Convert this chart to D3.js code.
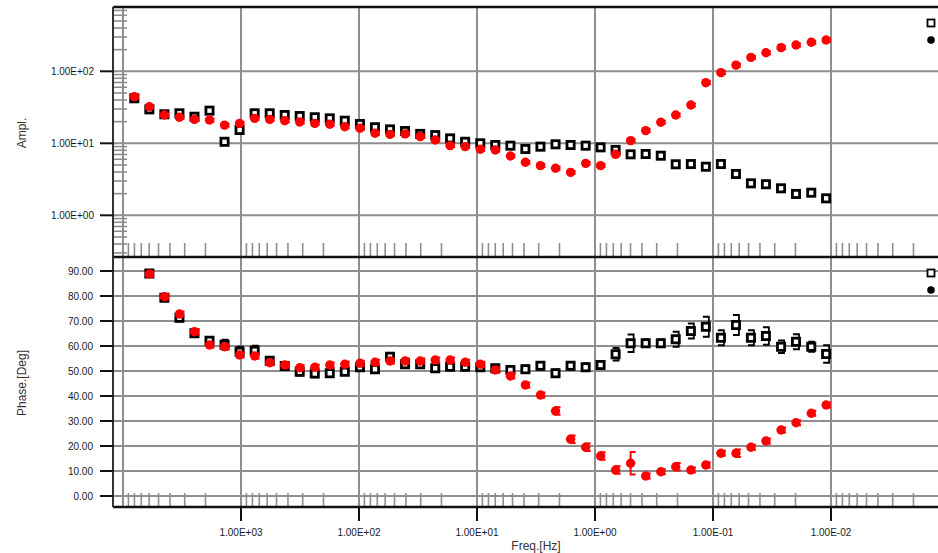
<!DOCTYPE html>
<html>
<head>
<meta charset="utf-8">
<script src="https://cdn.jsdelivr.net/npm/d3@7/dist/d3.min.js"></script>
<style>
  html, body { margin: 0; padding: 0; background: #fff; }
  svg { display: block; font-family: "Liberation Sans", Arial, sans-serif; }
</style>
</head>
<body>
<svg id="chart" width="938" height="553"></svg>
<script>
// Measured frequencies (Hz), high to low
const freq = [8020, 5980, 4460, 3325, 2480, 1849, 1379, 1028, 766, 571,
  426, 318, 237, 177, 132, 98.2, 73.2, 54.6, 40.7, 30.3,
  22.6, 16.9, 12.6, 9.38, 7.00, 5.21, 3.89, 2.90, 2.16, 1.61,
  1.20, 0.897, 0.669, 0.499, 0.372, 0.277, 0.207, 0.154, 0.115, 0.0857,
  0.0639, 0.0477, 0.0356, 0.0265, 0.0198, 0.0147, 0.0110];

// Amplitude, series 1 (open squares)
const ampSquare = [42.2, 29.6, 25.3, 26.1, 23.4, 28.4, 10.5, 15.3, 26.1, 26.1,
  24.7, 23.9, 23.0, 22.2, 20.6, 18.5, 16.7, 15.6, 14.8, 13.5,
  13.0, 11.7, 10.5, 10.0, 9.47, 9.27, 8.34, 8.98, 9.68, 9.47,
  9.27, 8.79, 8.08, 7.03, 7.10, 6.73, 5.11, 5.15, 4.73, 5.15,
  3.75, 2.78, 2.70, 2.37, 1.98, 2.06, 1.72];
// Amplitude, series 2 (filled circles)
const ampCircle = [44.4, 32.2, 24.7, 23.0, 21.5, 21.1, 17.9, 18.9, 22.2, 21.5,
  20.6, 19.8, 18.9, 18.4, 17.0, 16.2, 13.8, 13.3, 13.5, 12.4,
  11.1, 9.27, 8.98, 8.26, 8.08, 6.67, 5.45, 4.89, 4.50, 3.95,
  5.27, 4.89, 7.03, 10.9, 15.0, 19.6, 24.7, 34.0, 69.5, 95.7,
  122, 156, 181, 213, 232, 253, 272];
// Amplitude error half-widths, in decades
const ampSquareErr = [0.03, 0.03, 0.03, 0.03, 0.03, 0.04, 0.03, 0.04, 0.03, 0.03,
  0.03, 0.03, 0.03, 0.03, 0.03, 0.03, 0.03, 0.03, 0.03, 0.03,
  0.03, 0.03, 0.03, 0.03, 0.03, 0.03, 0.03, 0.03, 0.03, 0.03,
  0.03, 0.03, 0.03, 0.03, 0.03, 0.03, 0.03, 0.03, 0.04, 0.03,
  0.03, 0.03, 0.03, 0.03, 0.03, 0.03, 0.04];
const ampCircleErr = [0.02, 0.02, 0.02, 0.02, 0.02, 0.02, 0.02, 0.02, 0.02, 0.02,
  0.02, 0.02, 0.02, 0.02, 0.02, 0.02, 0.02, 0.02, 0.02, 0.02,
  0.02, 0.02, 0.02, 0.02, 0.02, 0.02, 0.02, 0.02, 0.02, 0.02,
  0.02, 0.02, 0.02, 0.02, 0.02, 0.02, 0.02, 0.02, 0.02, 0.02,
  0.02, 0.02, 0.02, 0.02, 0.02, 0.02, 0.02];

// Phase (deg); no phase reading at the first frequency
const phaseSquare = [null, 89.0, 79.3, 71.3, 65.1, 62.1, 60.5, 57.7, 58.1, 54.1,
  52.0, 49.7, 49.0, 49.1, 49.7, 51.5, 50.7, 55.7, 52.7, 52.7,
  51.1, 51.7, 51.7, 51.5, 51.1, 50.4, 50.7, 52.1, 49.1, 52.1,
  51.5, 52.4, 56.7, 61.1, 61.1, 61.1, 62.7, 66.0, 67.7, 63.3,
  68.4, 63.3, 64.0, 59.7, 61.7, 59.7, 56.8];
const phaseCircle = [null, 88.8, 79.7, 72.8, 65.7, 60.4, 59.7, 56.4, 56.0, 53.3,
  52.4, 51.3, 51.5, 52.4, 52.7, 53.1, 53.5, 54.0, 54.0, 54.0,
  54.4, 54.4, 53.5, 52.7, 50.4, 48.0, 44.4, 40.4, 34.0, 22.7,
  19.5, 16.0, 10.4, 13.1, 8.0, 9.7, 11.7, 10.4, 12.4, 17.1,
  17.1, 19.5, 22.0, 26.4, 29.3, 33.1, 36.4];
const phaseSquareErr = [null, 1.2, 1.2, 1.5, 1.2, 1.5, 2.0, 2.0, 2.0, 1.2,
  1.2, 1.5, 1.5, 1.5, 1.2, 1.2, 1.2, 1.5, 1.2, 1.2,
  1.2, 1.2, 1.2, 1.2, 1.2, 1.2, 1.5, 1.5, 1.5, 1.5,
  1.5, 1.5, 2.5, 3.5, 1.5, 1.5, 3.0, 3.0, 4.0, 3.0,
  4.0, 3.0, 3.5, 2.5, 3.0, 2.0, 3.5];
const phaseCircleErr = [null, 1.0, 1.0, 1.0, 1.0, 1.0, 1.0, 1.0, 1.0, 1.0,
  1.0, 1.0, 1.0, 1.0, 1.0, 1.0, 1.0, 1.0, 1.0, 1.0,
  1.0, 1.0, 1.0, 1.0, 1.0, 1.0, 1.0, 1.0, 1.5, 1.5,
  1.5, 1.5, 1.5, 4.5, 1.0, 1.0, 1.5, 1.0, 1.0, 1.0,
  1.5, 1.0, 1.0, 1.0, 1.0, 1.0, 1.0];

// Axis labels
const xTickValues = [1e3, 1e2, 1e1, 1e0, 1e-1, 1e-2];
const xTickLabels = ["1.00E+03", "1.00E+02", "1.00E+01", "1.00E+00", "1.00E-01", "1.00E-02"];
const ampTickValues = [100, 10, 1];
const ampTickLabels = ["1.00E+02", "1.00E+01", "1.00E+00"];
const phaseTickValues = [90, 80, 70, 60, 50, 40, 30, 20, 10, 0];
const phaseTickLabels = ["90.00", "80.00", "70.00", "60.00", "50.00", "40.00", "30.00", "20.00", "10.00", "0.00"];

const svg = d3.select("#chart");
const W = 938;
const frameL = 113, frameR = 945;
const top1 = 7, bot1 = 257, top2 = 257, bot2 = 507;
const gridColor = "#8e8e8e";
const red = "#ff0000";

const x = d3.scaleLog().domain([1e4, 1e-2]).range([123, 831]);
const yAmp = d3.scaleLog().domain([100, 1]).range([71.3, 215.3]);
const yPh = d3.scaleLinear().domain([0, 90]).range([496, 271]);

const gridX = [1e4, 1e3, 1e2, 1e1, 1e0, 1e-1, 1e-2];

// minor log positions along x inside the frame
const xMinor = [];
for (let k = -3; k <= 3; k++) for (let m = 2; m <= 9; m++) {
  const v = m * Math.pow(10, k);
  const px = x(v);
  if (px > frameL + 1 && px < W) xMinor.push(v);
}
// minor log positions along the amplitude axis
const ampMinor = [];
for (let k = -1; k <= 2; k++) for (let m = 2; m <= 9; m++) {
  const v = m * Math.pow(10, k);
  const py = yAmp(v);
  if (py > top1 + 1 && py < bot1 - 1) ampMinor.push(v);
}

const g = svg.append("g");

// ---- grids ----
g.append("g").selectAll("line").data(gridX).join("line")
  .attr("x1", d => x(d)).attr("x2", d => x(d))
  .attr("y1", top1).attr("y2", bot2)
  .attr("stroke", gridColor).attr("stroke-width", 2);
g.append("g").selectAll("line").data(ampTickValues).join("line")
  .attr("x1", frameL).attr("x2", frameR)
  .attr("y1", d => yAmp(d)).attr("y2", d => yAmp(d))
  .attr("stroke", gridColor).attr("stroke-width", 2);
g.append("g").selectAll("line").data(phaseTickValues).join("line")
  .attr("x1", frameL).attr("x2", frameR)
  .attr("y1", d => yPh(d)).attr("y2", d => yPh(d))
  .attr("stroke", gridColor).attr("stroke-width", 2);

// ---- minor ticks ----
[bot1, bot2].forEach(yb => {
  g.append("g").selectAll("line").data(xMinor).join("line")
    .attr("x1", d => x(d)).attr("x2", d => x(d))
    .attr("y1", yb - 14).attr("y2", yb)
    .attr("stroke", gridColor).attr("stroke-width", 1.6);
});
g.append("g").selectAll("line").data(ampMinor).join("line")
  .attr("x1", frameL).attr("x2", frameL + 14)
  .attr("y1", d => yAmp(d)).attr("y2", d => yAmp(d))
  .attr("stroke", gridColor).attr("stroke-width", 1.6);

// ---- frame ----
const frame = g.append("g").attr("stroke", "#111");
frame.append("line").attr("x1", frameL).attr("x2", frameR).attr("y1", top1).attr("y2", top1).attr("stroke-width", 2.5);
frame.append("line").attr("x1", frameL).attr("x2", frameR).attr("y1", bot1).attr("y2", bot1).attr("stroke-width", 2.5);
frame.append("line").attr("x1", frameL).attr("x2", frameR).attr("y1", bot2).attr("y2", bot2).attr("stroke-width", 2.5);
frame.append("line").attr("x1", frameL).attr("x2", frameL).attr("y1", top1).attr("y2", bot2).attr("stroke-width", 2).attr("stroke", "#333");

// ---- major ticks and labels ----
const tickFont = 10;
g.append("g").selectAll("line").data(ampTickValues).join("line")
  .attr("x1", 100).attr("x2", frameL)
  .attr("y1", d => yAmp(d)).attr("y2", d => yAmp(d))
  .attr("stroke", "#111").attr("stroke-width", 2);
g.append("g").selectAll("text").data(ampTickValues).join("text")
  .attr("x", 94).attr("y", d => yAmp(d) + 3.5)
  .attr("text-anchor", "end").attr("font-size", tickFont).attr("fill", "#1a1a1a")
  .text((d, i) => ampTickLabels[i]);

g.append("g").selectAll("line").data(phaseTickValues).join("line")
  .attr("x1", 100).attr("x2", frameL)
  .attr("y1", d => yPh(d)).attr("y2", d => yPh(d))
  .attr("stroke", "#111").attr("stroke-width", 2);
g.append("g").selectAll("text").data(phaseTickValues).join("text")
  .attr("x", 93).attr("y", d => yPh(d) + 3.5)
  .attr("text-anchor", "end").attr("font-size", tickFont).attr("fill", "#1a1a1a")
  .text((d, i) => phaseTickLabels[i]);

g.append("g").selectAll("line").data(xTickValues).join("line")
  .attr("x1", d => x(d)).attr("x2", d => x(d))
  .attr("y1", bot2).attr("y2", bot2 + 14)
  .attr("stroke", "#111").attr("stroke-width", 2);
g.append("g").selectAll("text").data(xTickValues).join("text")
  .attr("x", d => x(d)).attr("y", 536)
  .attr("text-anchor", "middle").attr("font-size", tickFont).attr("fill", "#1a1a1a")
  .text((d, i) => xTickLabels[i]);

// ---- axis titles ----
svg.append("text").attr("x", 536).attr("y", 550).attr("text-anchor", "middle")
  .attr("font-size", 12).attr("fill", "#333").text("Freq.[Hz]");
svg.append("text").attr("transform", "translate(26,133) rotate(-90)")
  .attr("text-anchor", "middle").attr("font-size", 12).attr("fill", "#333").text("Ampl.");
svg.append("text").attr("transform", "translate(26,383) rotate(-90)")
  .attr("text-anchor", "middle").attr("font-size", 12).attr("fill", "#333").text("Phase.[Deg]");

// ---- series drawing ----
function drawSquares(layer, vals, errs, yScale, isLog) {
  const pts = freq.map((f, i) => ({ f, v: vals[i], e: errs[i] })).filter(d => d.v != null);
  const s = layer.append("g");
  // error bars: stem right of marker, caps pointing left
  s.selectAll("path.err").data(pts).join("path").attr("class", "err")
    .attr("d", d => {
      const cx = x(d.f) + 3;
      const hi = isLog ? yScale(d.v * Math.pow(10, d.e)) : yScale(d.v + d.e);
      const lo = isLog ? yScale(d.v / Math.pow(10, d.e)) : yScale(d.v - d.e);
      return `M${cx - 6},${hi}H${cx}V${lo}H${cx - 6}`;
    })
    .attr("fill", "none").attr("stroke", "#000").attr("stroke-width", 1.8);
  s.selectAll("rect").data(pts).join("rect")
    .attr("x", d => x(d.f) - 3.6).attr("y", d => yScale(d.v) - 3.6)
    .attr("width", 7.2).attr("height", 7.2)
    .attr("fill", "#fff").attr("stroke", "#000").attr("stroke-width", 2.8);
}
function drawCircles(layer, vals, errs, yScale, isLog) {
  const pts = freq.map((f, i) => ({ f, v: vals[i], e: errs[i] })).filter(d => d.v != null);
  const s = layer.append("g");
  // error bars: stem through centre, caps pointing right
  s.selectAll("path.err").data(pts).join("path").attr("class", "err")
    .attr("d", d => {
      const cx = x(d.f);
      const hi = isLog ? yScale(d.v * Math.pow(10, d.e)) : yScale(d.v + d.e);
      const lo = isLog ? yScale(d.v / Math.pow(10, d.e)) : yScale(d.v - d.e);
      return `M${cx + 5},${hi}H${cx}V${lo}H${cx + 5}`;
    })
    .attr("fill", "none").attr("stroke", red).attr("stroke-width", 2);
  s.selectAll("circle").data(pts).join("circle")
    .attr("cx", d => x(d.f)).attr("cy", d => yScale(d.v))
    .attr("r", 4.7).attr("fill", red);
}

const data1 = svg.append("g");
drawSquares(data1, ampSquare, ampSquareErr, yAmp, true);
drawCircles(data1, ampCircle, ampCircleErr, yAmp, true);
const data2 = svg.append("g");
drawSquares(data2, phaseSquare, phaseSquareErr, yPh, false);
drawCircles(data2, phaseCircle, phaseCircleErr, yPh, false);

// ---- legend markers ----
[[23, 40], [273, 290]].forEach(([ys, yc]) => {
  svg.append("rect").attr("x", 931 - 3.5).attr("y", ys - 3.5).attr("width", 7).attr("height", 7)
    .attr("fill", "#fff").attr("stroke", "#000").attr("stroke-width", 1.8);
  svg.append("circle").attr("cx", 931).attr("cy", yc).attr("r", 3.8).attr("fill", "#000");
});
</script>
</body>
</html>
